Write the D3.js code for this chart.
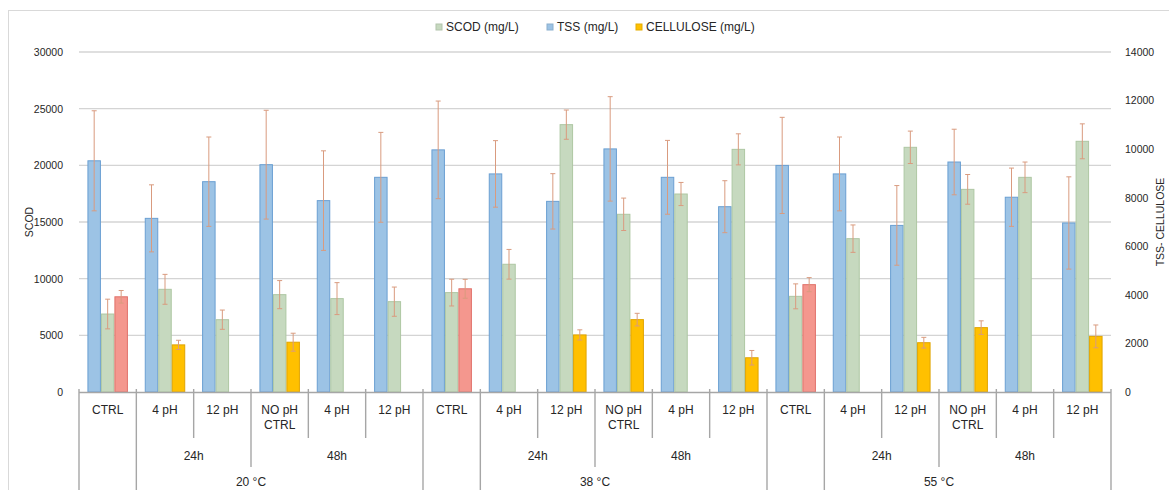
<!DOCTYPE html>
<html lang="en">

<head>
    <meta charset="UTF-8">
    <script src="https://d3js.org/d3.v7.min.js"></script>
    <title>SCOD / TSS / cellulose</title>
    <style>
        body { margin: 0; background: #fff; }
        text { font-family: "Liberation Sans", Arial, sans-serif; fill: #262626; }
    </style>
</head>

<body>
    <div id="chart"></div>
    <script>
        // Data
        const temps = ["20 °C", "38 °C", "55 °C"];
        const conditions = ["CTRL", "4 pH", "12 pH", "NO pH CTRL", "4 pH", "12 pH"];
        const times = ["", "24h", "24h", "48h", "48h", "48h"];

        const tss = [9520, 7150, 8660, 9360, 7880, 8840, 9970, 8980, 7850, 10010, 8840, 7630, 9330, 8980, 6860, 9470, 8020, 6960];
        const tssErr = [2060, 1380, 1840, 2240, 2050, 1850, 2010, 1370, 1140, 2150, 1520, 1070, 1980, 1520, 1640, 1350, 1200, 1900];
        const scod = [6880, 9060, 6380, 8590, 8240, 7970, 8770, 11270, 23590, 15680, 17470, 21410, 8440, 13530, 21590, 17880, 18940, 22120];
        const scodErr = [1310, 1320, 850, 1240, 1410, 1290, 1180, 1310, 1290, 1430, 1020, 1370, 1100, 1210, 1430, 1310, 1350, 1540];
        const cellulose = [3920, 1940, null, 2050, null, null, 4250, null, 2350, 2980, null, 1410, 4420, null, 2030, 2650, null, 2290];
        const celluloseErr = [260, 190, null, 370, null, null, 390, null, 210, 260, null, 300, 290, null, 220, 280, null, 470];

        const leftTicks = [0, 5000, 10000, 15000, 20000, 25000, 30000];
        const rightTicks = [0, 2000, 4000, 6000, 8000, 10000, 12000, 14000];

        // Build category table
        const cats = [];
        temps.forEach((t, ti) => conditions.forEach((c, ci) => {
            cats.push({ i: ti * conditions.length + ci, temp: t, cond: c, time: times[ci] });
        }));

        const width = 1169;
        const height = 490;
        const plot = { left: 79, right: 1111, top: 52, bottom: 392 };

        const svg = d3.select("#chart")
            .append("svg")
            .attr("width", width)
            .attr("height", height);

        // Frame
        svg.append("rect")
            .attr("x", 8.5).attr("y", 10.5)
            .attr("width", width).attr("height", height)
            .attr("fill", "none")
            .attr("stroke", "#d9d9d9");

        // Scales
        const x = d3.scaleBand()
            .domain(cats.map(d => d.i))
            .range([plot.left, plot.right]);

        const x1 = d3.scaleBand()
            .domain(["tss", "scod", "cel"])
            .range([0, x.bandwidth()])
            .paddingInner(0)
            .paddingOuter(0.625);

        const yLeft = d3.scaleLinear().domain([0, 30000]).range([plot.bottom, plot.top]);
        const yRight = d3.scaleLinear().domain([0, 14000]).range([plot.bottom, plot.top]);

        // Gridlines
        svg.append("g")
            .selectAll("line")
            .data(leftTicks.slice(1))
            .join("line")
            .attr("x1", plot.left).attr("x2", plot.right)
            .attr("y1", d => yLeft(d)).attr("y2", d => yLeft(d))
            .attr("stroke", "#d4d4d4")
            .attr("stroke-width", 1.3);

        // Left axis
        svg.append("g")
            .attr("transform", `translate(${plot.left - 13},0)`)
            .call(d3.axisLeft(yLeft).tickValues(leftTicks).tickSize(0).tickFormat(d3.format("d")))
            .call(g => g.select(".domain").remove())
            .selectAll("text")
            .attr("font-size", 10.5)
            .attr("fill", "#404040");

        // Right axis
        svg.append("g")
            .attr("transform", `translate(${plot.right + 11},0)`)
            .call(d3.axisRight(yRight).tickValues(rightTicks).tickSize(0).tickFormat(d3.format("d")))
            .call(g => g.select(".domain").remove())
            .selectAll("text")
            .attr("font-size", 10.5)
            .attr("fill", "#404040");

        svg.selectAll(".tick text").attr("font-family", "Liberation Sans, Arial, sans-serif");

        // Axis titles
        svg.append("text")
            .attr("transform", "translate(33,222) rotate(-90)")
            .attr("text-anchor", "middle")
            .attr("font-size", 10.5)
            .attr("fill", "#404040")
            .text("SCOD");

        svg.append("text")
            .attr("transform", "translate(1164,222) rotate(-90)")
            .attr("text-anchor", "middle")
            .attr("font-size", 10.5)
            .attr("fill", "#404040")
            .text("TSS- CELLULOSE");

        // Bars
        const series = [
            { key: "tss", values: tss, errs: tssErr, y: yRight },
            { key: "scod", values: scod, errs: scodErr, y: yLeft },
            { key: "cel", values: cellulose, errs: celluloseErr, y: yRight }
        ];

        const fills = { tss: "#9cc3e5", scod: "#c6d9bf", cel: "#ffc000", ctrl: "#f4978e" };
        const strokes = { tss: "#6a9fd2", scod: "#aec7a3", cel: "#e0a400", ctrl: "#e0716a" };

        const barData = [];
        series.forEach(s => cats.forEach(c => {
            const v = s.values[c.i];
            if (v == null) return;
            const kind = s.key === "cel" && c.cond === "CTRL" ? "ctrl" : s.key;
            barData.push({ cat: c.i, key: s.key, kind, v, e: s.errs[c.i], y: s.y });
        }));

        svg.append("g")
            .selectAll("rect")
            .data(barData)
            .join("rect")
            .attr("x", d => x(d.cat) + x1(d.key) + 0.5)
            .attr("y", d => d.y(d.v))
            .attr("width", x1.bandwidth() - 1)
            .attr("height", d => plot.bottom - d.y(d.v))
            .attr("fill", d => fills[d.kind])
            .attr("stroke", d => strokes[d.kind])
            .attr("stroke-width", 1);

        // Error bars
        const errG = svg.append("g")
            .attr("stroke", "#d99b7f")
            .attr("stroke-width", 1);

        barData.forEach(d => {
            const cx = x(d.cat) + x1(d.key) + x1.bandwidth() / 2;
            const y0 = d.y(d.v + d.e);
            const y1 = d.y(d.v - d.e);
            errG.append("line").attr("x1", cx).attr("x2", cx).attr("y1", y0).attr("y2", y1);
            errG.append("line").attr("x1", cx - 2.5).attr("x2", cx + 2.5).attr("y1", y0).attr("y2", y0);
            errG.append("line").attr("x1", cx - 2.5).attr("x2", cx + 2.5).attr("y1", y1).attr("y2", y1);
        });

        // Baseline
        svg.append("line")
            .attr("x1", plot.left).attr("x2", plot.right)
            .attr("y1", plot.bottom + 0.5).attr("y2", plot.bottom + 0.5)
            .attr("stroke", "#a6a6a6")
            .attr("stroke-width", 1.6);

        // Multi-level category axis
        const step = x.step();
        const n = conditions.length;
        const bounds = d3.range(cats.length + 1).map(i => {
            const k = i % n;
            const end = (k === 0 || k === 1) ? height : (k === 3 ? 467 : 438);
            return { x: plot.left + i * step, end };
        });

        svg.append("g")
            .selectAll("line")
            .data(bounds)
            .join("line")
            .attr("x1", d => d.x).attr("x2", d => d.x)
            .attr("y1", plot.bottom - 3).attr("y2", d => d.end)
            .attr("stroke", "#a6a6a6")
            .attr("stroke-width", 1.4);

        // level 1 labels
        const lvl1 = svg.append("g")
            .selectAll("text")
            .data(cats)
            .join("text")
            .attr("x", d => x(d.i) + step / 2)
            .attr("y", 414)
            .attr("text-anchor", "middle")
            .attr("font-size", 12);

        lvl1.each(function (d) {
            const t = d3.select(this);
            if (d.cond === "NO pH CTRL") {
                t.append("tspan").attr("x", x(d.i) + step / 2).text("NO pH");
                t.append("tspan").attr("x", x(d.i) + step / 2).attr("dy", 15).text("CTRL");
            } else {
                t.text(d.cond);
            }
        });

        // level 2 labels (time groups)
        const timeGroups = [];
        temps.forEach((t, ti) => {
            const names = Array.from(new Set(times.filter(d => d)));
            names.forEach(name => {
                const idx = times.map((d, k) => d === name ? k : -1).filter(k => k >= 0);
                const a = ti * n + idx[0];
                const b = ti * n + idx[idx.length - 1];
                timeGroups.push({ name, mid: (x(a) + x(b) + step) / 2 });
            });
        });

        svg.append("g")
            .selectAll("text")
            .data(timeGroups)
            .join("text")
            .attr("x", d => d.mid)
            .attr("y", 460)
            .attr("text-anchor", "middle")
            .attr("font-size", 12)
            .text(d => d.name);

        // level 3 labels (temperature)
        svg.append("g")
            .selectAll("text")
            .data(temps)
            .join("text")
            .attr("x", (d, ti) => (x(ti * n) + x(ti * n + n - 1) + step) / 2)
            .attr("y", 486)
            .attr("text-anchor", "middle")
            .attr("font-size", 12)
            .text(d => d);

        // Legend
        const legendItems = [
            { label: "SCOD (mg/L)", color: fills.scod, x: 436 },
            { label: "TSS (mg/L)", color: fills.tss, x: 547 },
            { label: "CELLULOSE (mg/L)", color: fills.cel, x: 636 }
        ];

        const legend = svg.append("g")
            .selectAll("g")
            .data(legendItems)
            .join("g")
            .attr("transform", d => `translate(${d.x},27)`);

        legend.append("rect")
            .attr("x", 0).attr("y", -3)
            .attr("width", 6).attr("height", 6)
            .attr("fill", d => d.color)
            .attr("stroke", d => d3.color(d.color).darker(0.3));

        legend.append("text")
            .attr("x", 10)
            .attr("dy", "0.35em")
            .attr("font-size", 12)
            .attr("fill", "#404040")
            .text(d => d.label);
    </script>
</body>

</html>
